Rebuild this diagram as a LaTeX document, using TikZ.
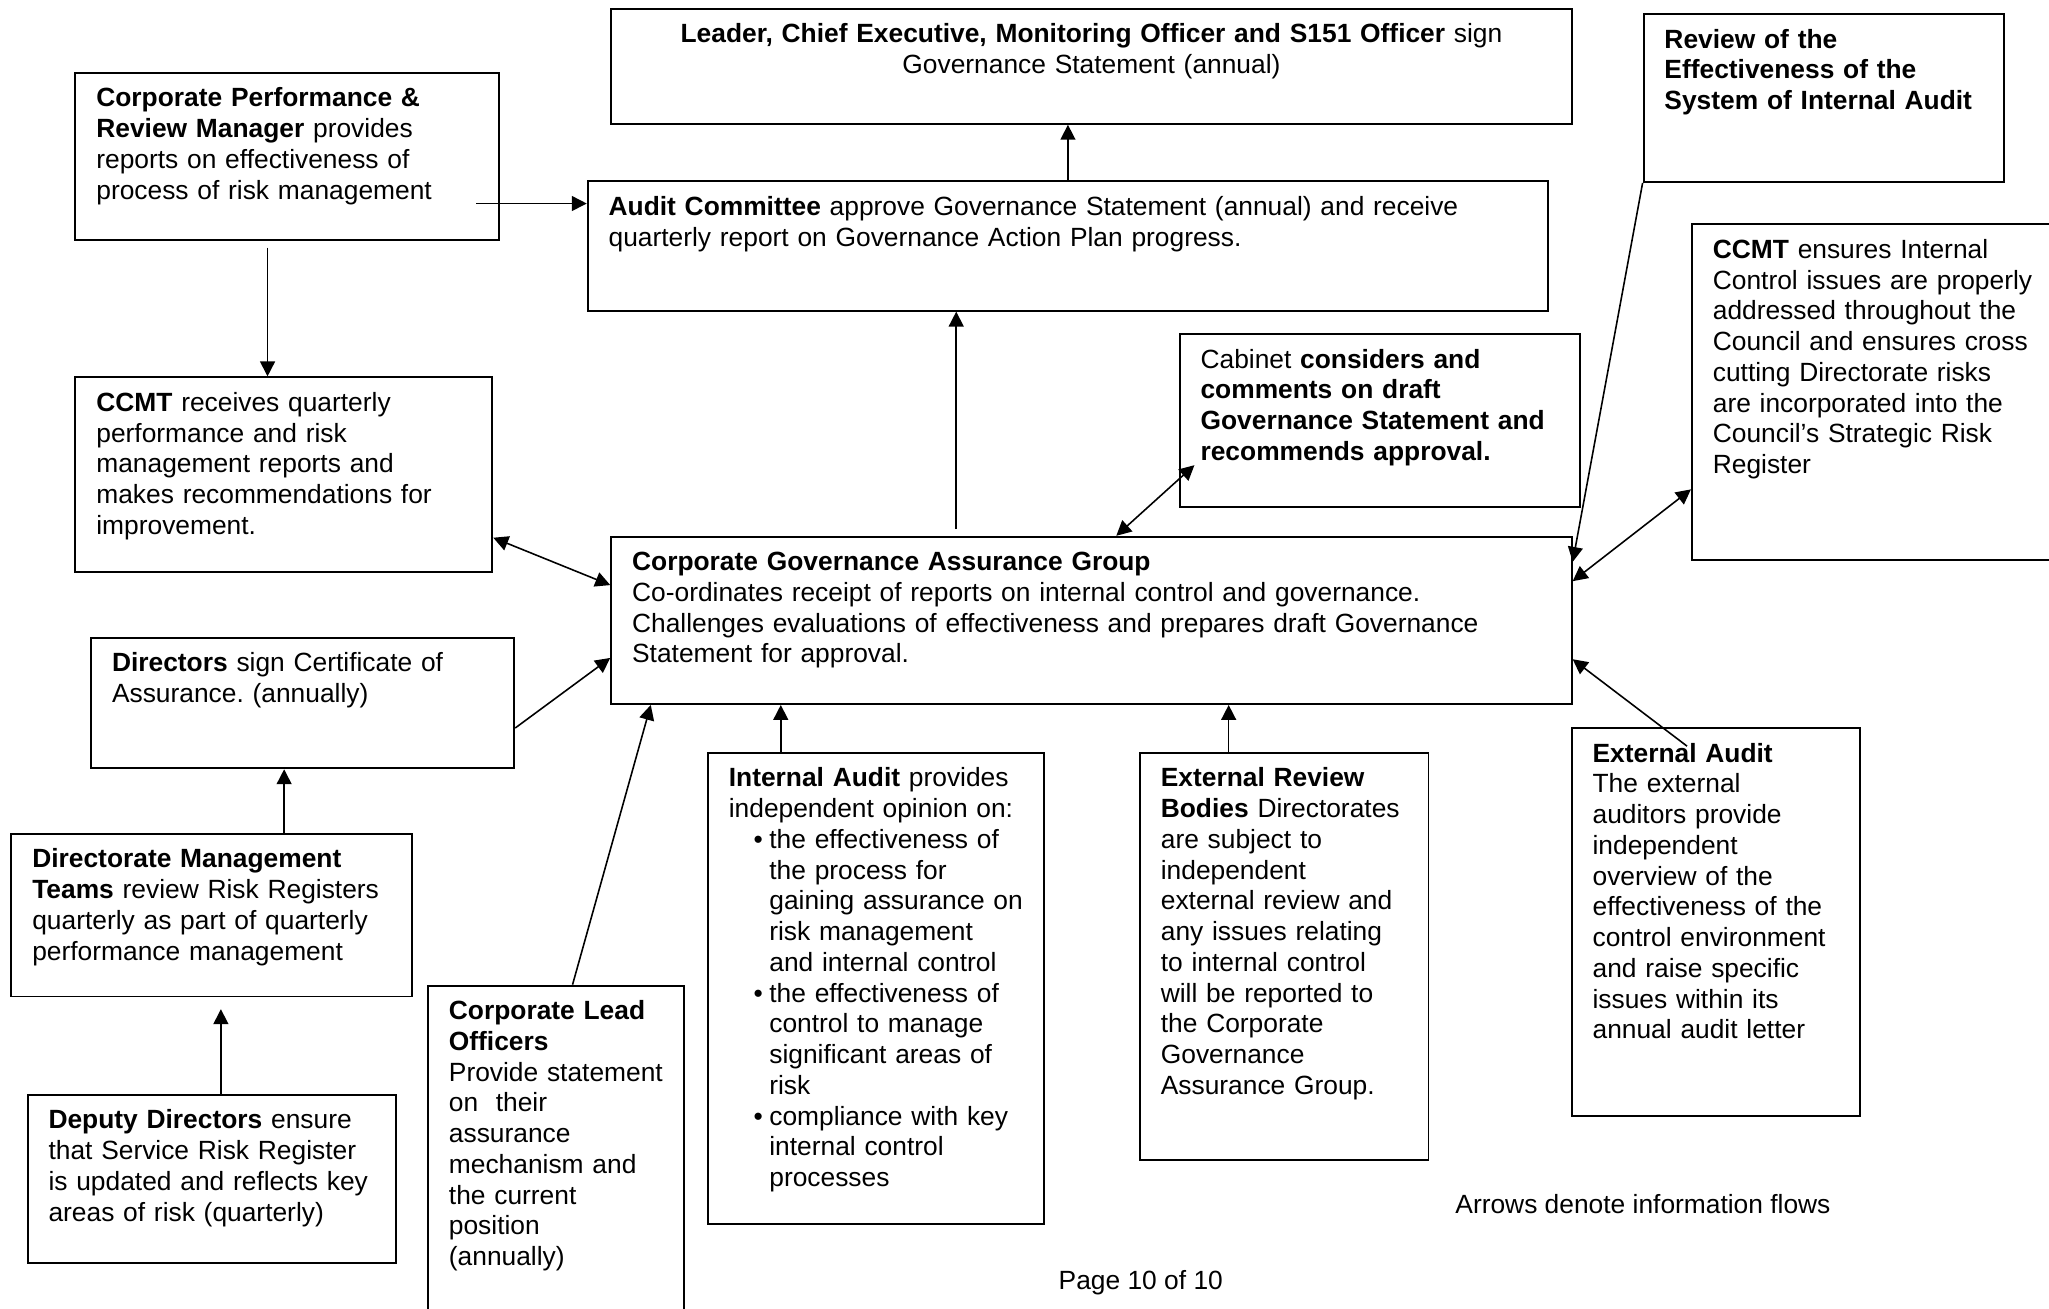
\documentclass[tikz,border=0pt]{standalone}
\usepackage{fontspec}
\setmainfont{Liberation Sans}
\usetikzlibrary{arrows.meta}
\usetikzlibrary{calc}

\newlength{\unitpx}
\setlength{\unitpx}{0.026135cm}
\newcommand{\boxlines}[1]{\begin{tabular}[t]{@{}l@{}}#1\end{tabular}}
\newcommand{\centrelines}[1]{\begin{tabular}[t]{@{}c@{}}#1\end{tabular}}
\frenchspacing

\begin{document}
\begin{tikzpicture}[x=0.026135cm, y=-0.026135cm,
        font=\fontsize{15.0}{17.5}\selectfont,
        >={Triangle[length=8.5pt, width=8.5pt]},
        box/.style={draw, line width=1.1pt, anchor=north west, align=left,
            inner xsep=16\unitpx, inner ysep=0pt, text height=26\unitpx},
        flow/.style={->, line width=0.9pt},
        twoway/.style={<->, line width=0.9pt}]
        \useasboundingbox (0,0) rectangle (1568,1001.7);
        \clip (0,0) rectangle (1568,1001.7);

        % top: statement and committee
        \node[box, align=center, text width=703\unitpx, text depth=62\unitpx] (lead) at (467,6)
            {\centrelines{\textbf{Leader, Chief Executive, Monitoring Officer and S151 Officer} sign\\
            Governance Statement (annual)}};
        \node[box, text width=703\unitpx, text depth=73\unitpx] (audit) at (449,138)
            {\boxlines{\textbf{Audit Committee} approve Governance Statement (annual) and receive\\
            quarterly report on Governance Action Plan progress.}};

        % left column
        \node[box, text width=292\unitpx, text depth=102\unitpx] (cprm) at (57,55)
            {\boxlines{\textbf{Corporate Performance \&}\\
            \textbf{Review Manager} provides\\
            reports on effectiveness of\\
            process of risk management}};
        \node[box, text width=287\unitpx, text depth=123\unitpx] (ccmtl) at (57,288)
            {\boxlines{\textbf{CCMT} receives quarterly\\
            performance and risk\\
            management reports and\\
            makes recommendations for\\
            improvement.}};
        \node[box, text width=291.8\unitpx, text depth=73.7\unitpx] (directors) at (69,487.5)
            {\boxlines{\textbf{Directors} sign Certificate of\\
            Assurance. (annually)}};
        \node[box, text width=274.4\unitpx, text depth=98.5\unitpx] (dmt) at (8,637.3)
            {\boxlines{\textbf{Directorate Management}\\
            \textbf{Teams} review Risk Registers\\
            quarterly as part of quarterly\\
            performance management}};
        \node[box, text width=249.8\unitpx, text depth=102.8\unitpx] (deputy) at (20.4,837.2)
            {\boxlines{\textbf{Deputy Directors} ensure\\
            that Service Risk Register\\
            is updated and reflects key\\
            areas of risk (quarterly)}};

        % right column
        \node[box, text width=244\unitpx, text depth=102.5\unitpx] (review) at (1257,10)
            {\boxlines{\textbf{Review of the}\\
            \textbf{Effectiveness of the}\\
            \textbf{System of Internal Audit}}};
        \node[box, text width=268\unitpx, text depth=231\unitpx] (ccmtr) at (1294,171)
            {\boxlines{\textbf{CCMT} ensures Internal\\
            Control issues are properly\\
            addressed throughout the\\
            Council and ensures cross\\
            cutting Directorate risks\\
            are incorporated into the\\
            Council’s Strategic Risk\\
            Register}};
        \node[box, text width=274.5\unitpx, text depth=106.5\unitpx] (cabinet) at (902,255)
            {\boxlines{Cabinet \textbf{considers and}\\
            \textbf{comments on draft}\\
            \textbf{Governance Statement and}\\
            \textbf{recommends approval.}}};

        % the group in the middle
        \node[box, text width=703\unitpx, text depth=102\unitpx] (cgag) at (467,410)
            {\boxlines{\textbf{Corporate Governance Assurance Group}\\
            Co-ordinates receipt of reports on internal control and governance.\\
            Challenges evaluations of effectiveness and prepares draft Governance\\
            Statement for approval.}};

        % bottom row
        \node[box, text width=164\unitpx, text depth=244\unitpx] (clo) at (326.8,753.5)
            {\boxlines{\textbf{Corporate Lead}\\
            \textbf{Officers}\\
            Provide statement\\
            on~ their\\
            assurance\\
            mechanism and\\
            the current\\
            position\\
            (annually)}};
        \node[box, text width=225.5\unitpx, text depth=334.7\unitpx] (intaudit) at (541,575.5)
            {\boxlines{\textbf{Internal Audit} provides\\
            independent opinion on:\\
            \hspace*{19\unitpx}\makebox[12\unitpx][l]{\textbullet}the effectiveness of\\
            \hspace*{31\unitpx}the process for\\
            \hspace*{31\unitpx}gaining assurance on\\
            \hspace*{31\unitpx}risk management\\
            \hspace*{31\unitpx}and internal control\\
            \hspace*{19\unitpx}\makebox[12\unitpx][l]{\textbullet}the effectiveness of\\
            \hspace*{31\unitpx}control to manage\\
            \hspace*{31\unitpx}significant areas of\\
            \hspace*{31\unitpx}risk\\
            \hspace*{19\unitpx}\makebox[12\unitpx][l]{\textbullet}compliance with key\\
            \hspace*{31\unitpx}internal control\\
            \hspace*{31\unitpx}processes}};
        \node[box, text width=188.8\unitpx, text depth=285.2\unitpx] (erb) at (871.6,575.5)
            {\boxlines{\textbf{External Review}\\
            \textbf{Bodies} Directorates\\
            are subject to\\
            independent\\
            external review and\\
            any issues relating\\
            to internal control\\
            will be reported to\\
            the Corporate\\
            Governance\\
            Assurance Group.}};
        \node[box, text width=188.9\unitpx, text depth=271.1\unitpx] (extaudit) at (1202,556.5)
            {\boxlines{\textbf{External Audit}\\
            The external\\
            auditors provide\\
            independent\\
            overview of the\\
            effectiveness of the\\
            control environment\\
            and raise specific\\
            issues within its\\
            annual audit letter}};

        \node[anchor=base west, inner sep=0pt] (note) at (1113.5,928.5) {Arrows denote information flows};
        \node[anchor=base, inner sep=0pt] (page) at (873,986.4) {Page 10 of 10};

        % information flows
        \draw[flow] (audit.north) -- (audit.north |- lead.south);
        \coordinate (cprmout) at ([shift={(-18,36)}]cprm.east);
        \draw[flow] (cprmout) -- (cprmout -| audit.west);
        \coordinate (cprmdown) at ([shift={(-15,5)}]cprm.south);
        \draw[flow] (cprmdown) -- (cprmdown |- ccmtl.north);
        \coordinate (cgagup) at ([shift={(-103.5,-5)}]cgag.north);
        \draw[flow] (cgagup) -- (cgagup |- audit.south);

        \draw[twoway] ([yshift=27\unitpx]ccmtl.south east) -- ([yshift=27\unitpx]cgag.west);
        \draw[twoway] ([xshift=19\unitpx]cgag.north) -- ([shift={(12,-33)}]cabinet.south west);
        \draw[flow] (review.south west) -- ([yshift=-20\unitpx]cgag.north east);
        \draw[twoway] ([yshift=55\unitpx]ccmtr.south west) -- ([yshift=30\unitpx]cgag.east);
        \draw[flow] ([shift={(89,14.5)}]extaudit.north west) -- ([yshift=35\unitpx]cgag.south east);
        \draw[flow] ([yshift=-19\unitpx]directors.east) -- ([yshift=36\unitpx]cgag.south west);
        \draw[flow] ([xshift=12.6\unitpx]clo.north) -- ([xshift=31\unitpx]cgag.south west);

        \coordinate (iaup) at ([xshift=-73\unitpx]intaudit.north);
        \draw[flow] (iaup) -- (iaup |- cgag.south);
        \coordinate (erbup) at ([xshift=-42.5\unitpx]erb.north);
        \draw[flow] (erbup) -- (erbup |- cgag.south);
        \coordinate (dmtup) at ([xshift=55.5\unitpx]dmt.north);
        \draw[flow] (dmtup) -- (dmtup |- directors.south);
        \coordinate (deputyup) at ([xshift=7\unitpx]deputy.north);
        \draw[flow] (deputyup) -- ($(deputyup |- dmt.south)+(0,9)$);

    \end{tikzpicture}
\end{document}
